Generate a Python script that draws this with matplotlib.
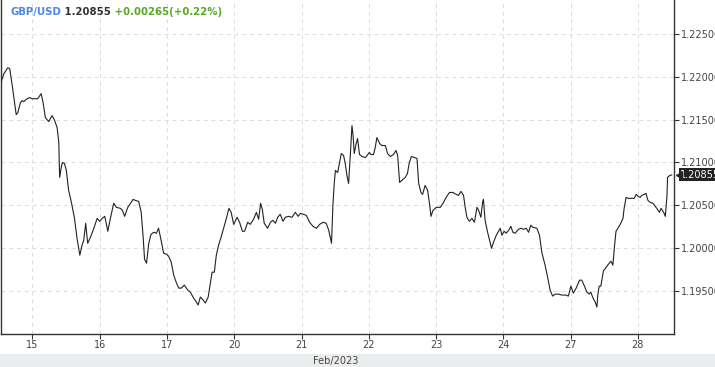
import numpy as np
import matplotlib
matplotlib.use("Agg")
import matplotlib.pyplot as plt
import matplotlib.transforms as mtransforms

# ── Data: GBP/USD hourly, x = trading hours since 15 Feb 00:00 ─────────────────
HOURS = [
    -11.4, -10.2, -8.8, -8.1, -7.2, -6.4, -5.8, -5.2, -4.3, -3.7, -3.1, -1.9, -1.0, -0.1,
    0.5, 1.9, 3.1, 3.8, 4.6, 5.8, 7.0, 7.8, 8.8, 9.4, 9.7, 10.2, 10.7, 11.4, 12.1, 12.9,
    13.9, 15.0, 15.9, 16.9, 17.7, 18.3, 19.0, 19.7, 20.7, 21.9, 23.1, 24.0, 24.9, 25.8,
    26.9, 27.8, 29.0, 30.0, 31.4, 32.1, 32.9, 34.0, 35.0, 35.9, 36.7, 37.9, 38.8, 39.5,
    40.0, 40.7, 41.5, 42.3, 43.3, 44.2, 45.0, 45.9, 46.8, 47.8, 48.6, 49.5, 50.4, 51.4,
    52.2, 53.1, 54.2, 55.4, 56.3, 57.5, 58.5, 59.1, 59.9, 60.9, 61.7, 62.7, 63.5, 64.1,
    64.9, 65.6, 66.4, 67.3, 68.2, 69.2, 70.1, 70.9, 71.8, 73.0, 73.9, 74.9, 75.7, 76.8,
    77.7, 78.9, 79.9, 80.7, 81.4, 82.0, 82.7, 83.9, 84.9, 85.8, 86.7, 87.5, 88.4, 89.4,
    90.2, 91.4, 92.6, 93.8, 94.8, 95.6, 96.7, 97.7, 98.9, 100.1, 101.3, 102.5, 103.7,
    104.8, 105.7, 106.7, 107.2, 107.7, 108.1, 108.9, 109.6, 110.2, 111.0, 111.6, 112.2,
    112.8, 113.4, 114.0, 114.4, 114.8, 115.5, 116.0, 116.7, 117.6, 118.8, 119.4, 120.2,
    120.8, 121.7, 122.3, 122.9, 123.9, 124.7, 125.9, 126.7, 127.7, 128.8, 129.7, 130.3,
    131.0, 131.8, 133.0, 133.8, 134.4, 135.2, 136.2, 137.2, 137.8, 138.6, 139.2, 140.1,
    141.0, 141.6, 142.2, 142.9, 144.1, 145.5, 146.5, 147.6, 148.8, 150.0, 151.2, 152.0,
    152.9, 153.8, 154.4, 155.0, 155.9, 156.8, 157.7, 158.6, 159.2, 160.0, 160.6, 160.9,
    161.5, 162.4, 163.1, 163.8, 164.5, 165.5, 166.3, 166.9, 167.5, 168.3, 169.0, 169.9,
    170.7, 171.4, 172.2, 173.4, 174.3, 175.2, 176.2, 177.0, 177.8, 178.6, 180.0, 180.9,
    181.8, 182.9, 183.8, 184.7, 185.6, 186.5, 187.7, 188.9, 190.4, 191.2, 192.1, 193.0,
    194.0, 195.2, 196.0, 196.8, 197.8, 198.6, 199.2, 200.0, 200.8, 201.4, 201.7, 202.2,
    202.8, 203.7, 204.7, 205.5, 206.4, 207.1, 207.6, 208.2, 209.1, 209.9, 210.7, 211.1,
    211.8, 212.6, 213.9, 214.7, 215.4, 216.1, 216.8, 217.4, 218.3, 218.9, 219.6, 220.4,
    221.4, 222.2, 223.0, 223.7, 224.3, 225.2, 225.8, 226.4, 226.6, 227.4, 228.1,
]

PRICES = [
    1.21919, 1.22035, 1.22105, 1.22093, 1.21896, 1.21698, 1.21558, 1.21582, 1.21698,
    1.21721, 1.21710, 1.21744, 1.21756, 1.21744, 1.21744, 1.21744, 1.21803, 1.21698,
    1.21524, 1.21477, 1.21547, 1.21500, 1.21407, 1.21233, 1.20826, 1.20931, 1.21000,
    1.20989, 1.20907, 1.20675, 1.20535, 1.20349, 1.20117, 1.19919, 1.20035, 1.20093,
    1.20291, 1.20058, 1.20128, 1.20233, 1.20349, 1.20314, 1.20349, 1.20372, 1.20198,
    1.20349, 1.20524, 1.20477, 1.20465, 1.20442, 1.20372, 1.20477, 1.20524, 1.20570,
    1.20558, 1.20547, 1.20419, 1.20128, 1.19872, 1.19826, 1.20058, 1.20163, 1.20186,
    1.20175, 1.20233, 1.20093, 1.19942, 1.19931, 1.19907, 1.19838, 1.19686, 1.19593,
    1.19535, 1.19535, 1.19570, 1.19512, 1.19489, 1.19419, 1.19372, 1.19338, 1.19431,
    1.19396, 1.19361, 1.19431, 1.19593, 1.19721, 1.19721, 1.19919, 1.20035, 1.20128,
    1.20233, 1.20349, 1.20465, 1.20419, 1.20279, 1.20361, 1.20303, 1.20198, 1.20198,
    1.20303, 1.20279, 1.20338, 1.20419, 1.20338, 1.20524, 1.20454, 1.20291, 1.20233,
    1.20303, 1.20326, 1.20291, 1.20361, 1.20396, 1.20314, 1.20361, 1.20372, 1.20361,
    1.20419, 1.20372, 1.20407, 1.20396, 1.20384, 1.20303, 1.20256, 1.20233, 1.20279,
    1.20303, 1.20291, 1.20210, 1.20058, 1.20500, 1.20768, 1.20907, 1.20884, 1.21000,
    1.21105, 1.21082, 1.20989, 1.20849, 1.20756, 1.21082, 1.21431, 1.21314, 1.21105,
    1.21221, 1.21279, 1.21093, 1.21070, 1.21058, 1.21082, 1.21117, 1.21093, 1.21093,
    1.21175, 1.21291, 1.21221, 1.21198, 1.21198, 1.21105, 1.21070, 1.21093, 1.21140,
    1.21082, 1.20768, 1.20791, 1.20826, 1.20872, 1.20989, 1.21070, 1.21058, 1.21047,
    1.20756, 1.20651, 1.20628, 1.20733, 1.20675, 1.20535, 1.20372, 1.20442, 1.20477,
    1.20477, 1.20524, 1.20593, 1.20651, 1.20651, 1.20628, 1.20617, 1.20663, 1.20617,
    1.20477, 1.20361, 1.20314, 1.20349, 1.20303, 1.20477, 1.20442, 1.20361, 1.20535,
    1.20570, 1.20326, 1.20186, 1.20093, 1.20000, 1.20070, 1.20151, 1.20198, 1.20233,
    1.20151, 1.20198, 1.20175, 1.20210, 1.20256, 1.20186, 1.20175, 1.20221, 1.20233,
    1.20221, 1.20233, 1.20186, 1.20268, 1.20244, 1.20233, 1.20151, 1.19942, 1.19803,
    1.19663, 1.19512, 1.19442, 1.19465, 1.19465, 1.19454, 1.19454, 1.19442, 1.19558,
    1.19477, 1.19535, 1.19628, 1.19628, 1.19570, 1.19489, 1.19465, 1.19489, 1.19419,
    1.19372, 1.19314, 1.19454, 1.19558, 1.19558, 1.19733, 1.19779, 1.19814, 1.19849,
    1.19803, 1.20000, 1.20198, 1.20244, 1.20291, 1.20349, 1.20465, 1.20593, 1.20582,
    1.20582, 1.20582, 1.20628, 1.20605, 1.20593, 1.20617, 1.20628, 1.20640, 1.20558,
    1.20535, 1.20524, 1.20489, 1.20454, 1.20419, 1.20465, 1.20419, 1.20372, 1.20617,
    1.20826, 1.20849, 1.20855,
]

DAY_LABELS = ["15", "16", "17", "20", "21", "22", "23", "24", "27", "28"]
PRICE_TICKS = [1.195, 1.200, 1.205, 1.210, 1.215, 1.220, 1.225]
SYMBOL = "GBP/USD"
LAST = "1.20855"
CHANGE = "+0.00265(+0.22%)"
MONTH = "Feb/2023"

# ── Figure ────────────────────────────────────────────────────────────────────
fig = plt.figure(figsize=(7.15, 3.67), dpi=100)
fig.patch.set_facecolor("white")

# bottom grey band
fig.patches.append(plt.Rectangle((0, 0), 1, 13 / 367, transform=fig.transFigure,
                                 facecolor="#ebecee", edgecolor="none", zorder=0))
fig.text(336 / 715, 6 / 367, MONTH, ha="center", va="center",
         fontsize=7, color="#444444")

ax = fig.add_axes([0.5 / 715, 33 / 367, 673.5 / 715, 334 / 367])
ax.set_facecolor("white")
ax.plot(HOURS, PRICES, color="#222222", linewidth=0.8, zorder=3)

ax.set_xlim(-11.4, 228.9)
ax.set_ylim(1.190, 1.22895)

ax.set_xticks([24 * i for i in range(len(DAY_LABELS))])
ax.set_xticklabels(DAY_LABELS)
ax.set_yticks(PRICE_TICKS)
ax.set_yticklabels([f"{v:.5f}" for v in PRICE_TICKS])
ax.yaxis.tick_right()

ax.tick_params(axis="x", direction="out", length=3.5, width=0.8, color="#333333",
               labelsize=7, labelcolor="#444444", pad=1)
ax.tick_params(axis="y", direction="out", length=3.5, width=0.8, color="#333333",
               labelsize=7, labelcolor="#444444", pad=1.5)

ax.grid(True, color="#dcdcdc", linestyle=(0, (4, 4)), linewidth=0.7)
ax.set_axisbelow(True)

for side in ["left", "bottom", "right"]:
    ax.spines[side].set_color("#333333")
    ax.spines[side].set_linewidth(1.0)
ax.spines["top"].set_visible(False)

# ── Header text ───────────────────────────────────────────────────────────────
hdr_y = 1 - 12 / 334
t1 = ax.text(10 / 673.5, hdr_y, SYMBOL, transform=ax.transAxes, ha="left", va="center",
             fontsize=7.3, fontweight="bold", color="#4f86e8", zorder=5)
fig.canvas.draw()
t2 = ax.annotate(" " + LAST, xy=(1, 0.5), xycoords=t1, ha="left", va="center",
                 fontsize=7.3, fontweight="bold", color="#333333", zorder=5)
fig.canvas.draw()
ax.annotate(" " + CHANGE, xy=(1, 0.5), xycoords=t2, ha="left", va="center",
            fontsize=7.3, fontweight="bold", color="#55aa22", zorder=5)

# ── Last price tag on right axis ──────────────────────────────────────────────
trans = mtransforms.blended_transform_factory(ax.transAxes, ax.transData)
last_price = PRICES[-1]
ax.text(1.0 + 6 / 673.5, last_price, LAST, transform=trans, ha="left", va="center",
        fontsize=7, color="white", clip_on=False, zorder=6,
        bbox=dict(boxstyle="square,pad=0.15", fc="#222222", ec="none"))
ax.plot([1.0 + 5 / 673.5], [last_price], marker="<", markersize=5, color="#222222",
        transform=trans, clip_on=False, zorder=6)

fig.savefig("out.png", dpi=100)
